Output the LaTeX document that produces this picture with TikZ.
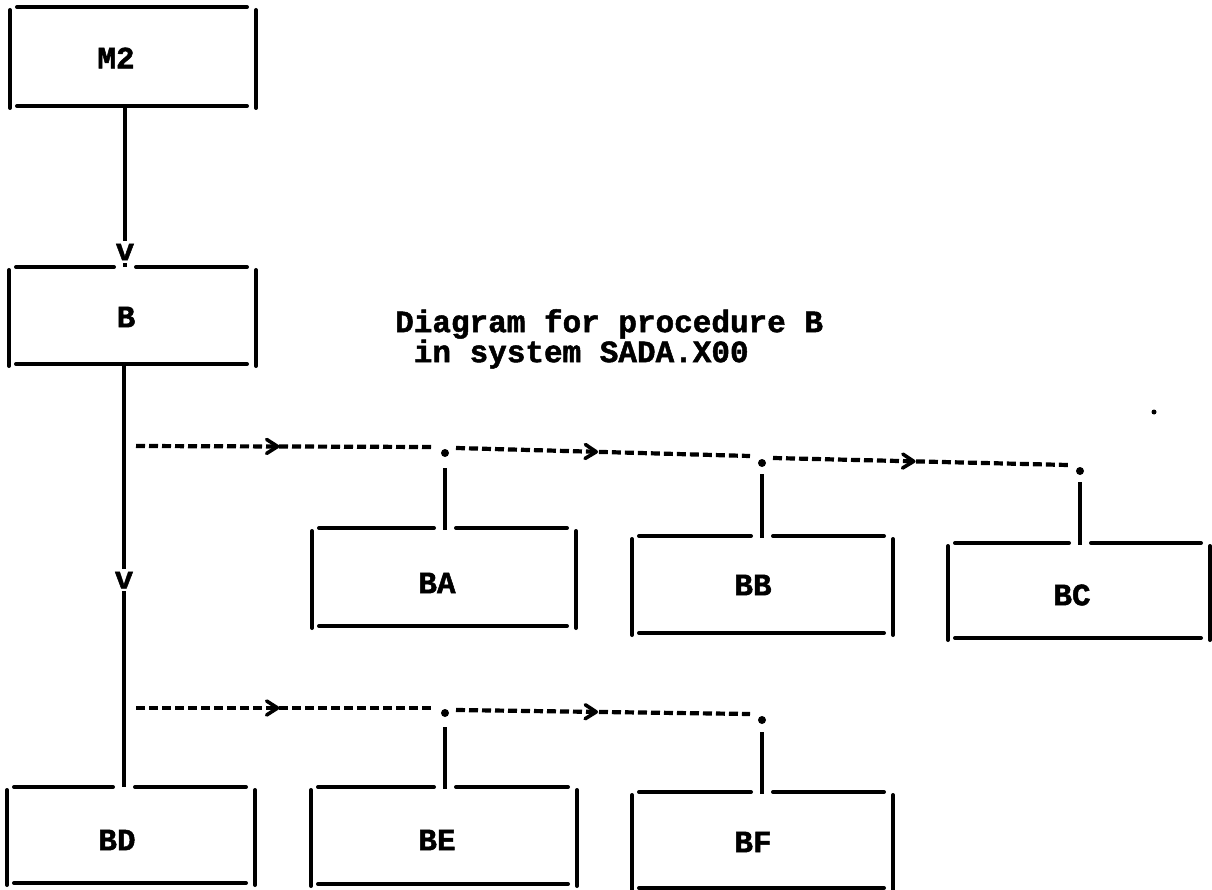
\documentclass[tikz,border=0pt]{standalone}
\usepackage{fontspec}
\setmonofont{Liberation Mono}[BoldFeatures={FakeBold=1.6}]
\usetikzlibrary{calc,decorations.markings}
\newcommand\tfont{\ttfamily\bfseries\fontsize{31}{25}\selectfont}
\newcommand\boxsides[1]{%
  \draw[frame] ($(#1.south west)+(7,0)$) -- ($(#1.south east)+(-9,0)$);
  \draw[frame] ($(#1.north west)+(0,3)$) -- ($(#1.south west)+(0,2)$);
  \draw[frame] ($(#1.north east)+(0,3)$) -- ($(#1.south east)+(0,2)$);}
\newcommand\boxtopgap[2]{%
  \draw[frame] ($(#1.north west)+(7,0)$) -- ($(#1.north -| #2)+(-11,0)$);
  \draw[frame] ($(#1.north -| #2)+(11,0)$) -- ($(#1.north east)+(-9,0)$);
  \boxsides{#1}}
\newcommand\boxtopfull[1]{%
  \draw[frame] ($(#1.north west)+(7,0)$) -- ($(#1.north east)+(-9,0)$);
  \boxsides{#1}}
\begin{document}
\begin{tikzpicture}[x=1pt,y=-1pt,
  frame/.style={line width=4pt, line cap=round},
  conn/.style={line width=4pt},
  dashline/.style={line width=4.2pt, dash pattern=on 9pt off 4pt,
    postaction={decorate}, decoration={markings,
      mark=at position 0.46 with {\draw[chev] (-6pt,-7pt) -- (5pt,0pt) -- (-6pt,7pt);}}},
  chev/.style={solid, line width=3.6pt, line cap=round, line join=round},
  boxnode/.style={draw=none, inner sep=0pt, outer sep=0pt},
  lbl/.style={font=\tfont, inner sep=0pt},
  vmark/.style={font=\tfont, fill=white, inner sep=3pt},
  jdot/.style={circle, fill=black, inner sep=0pt, minimum size=8pt},
  captext/.style={font=\tfont, align=left, inner sep=0pt}]
\useasboundingbox (0,0) rectangle (1212,890);
\fill[white] (0,0) rectangle (1212,890);

% boxes
\node[boxnode, minimum width=246pt, minimum height=99pt, label={[lbl,xshift=-17pt,yshift=-1.5pt]center:M2}] (M2) at (133,56.5) {};
\node[boxnode, minimum width=247pt, minimum height=97pt, label={[lbl,xshift=-6.5pt,yshift=-1.5pt]center:B}] (B) at (132.5,315.5) {};
\node[boxnode, minimum width=248pt, minimum height=96pt, label={[lbl,xshift=-14pt,yshift=-5pt]center:BD}] (BD) at (131,835) {};
\node[boxnode, minimum width=264pt, minimum height=98pt, label={[lbl,xshift=-7pt,yshift=-6pt]center:BA}] (BA) at (444,577) {};
\node[boxnode, minimum width=261pt, minimum height=97pt, label={[lbl,xshift=-9.5pt,yshift=-0.5pt]center:BB}] (BB) at (762.5,584.5) {};
\node[boxnode, minimum width=262pt, minimum height=95pt, label={[lbl,xshift=-7pt,yshift=-4.5pt]center:BC}] (BC) at (1079,590.5) {};
\node[boxnode, minimum width=266pt, minimum height=97pt, label={[lbl,xshift=-7pt,yshift=-4.5pt]center:BE}] (BE) at (444,835.5) {};
\node[boxnode, minimum width=261pt, minimum height=96pt, label={[lbl,xshift=-9.5pt,yshift=-2pt]center:BF}] (BF) at (762.5,840) {};

% caption
\node[captext, anchor=north west] (cap) at (395,309) {Diagram for procedure B\\\hspace*{0.6em}in system SADA.X00};

% spine
\coordinate (s1) at (125,0);
\coordinate (s2) at (124,0);
\draw[conn] (M2.south -| s1) -- node[vmark, pos=0.907] {v} (B.north -| s1);
\draw[conn] (B.south -| s2) -- node[vmark, pos=0.511] {v} (BD.north -| s2);

% row 1
\node[jdot] (j1) at (445,453) {};
\node[jdot] (j2) at (762,463) {};
\node[jdot] (j3) at (1080,471) {};
\coordinate (r1) at (136,446);
\draw[dashline] (r1) -- ($(j1)+(-12,-6)$);
\draw[dashline] ($(j1)+(11,-5)$) -- ($(j2)+(-12,-7)$);
\draw[dashline] ($(j2)+(11,-5)$) -- ($(j3)+(-12,-6)$);
\draw[conn] ($(j1)+(0,15)$) -- ($(BA.north -| j1)+(0,2)$);
\draw[conn] ($(j2)+(0,11)$) -- ($(BB.north -| j2)+(0,2)$);
\draw[conn] ($(j3)+(0,11)$) -- ($(BC.north -| j3)+(0,2)$);

% row 2
\node[jdot] (j4) at (445,713) {};
\node[jdot] (j5) at (762,720) {};
\coordinate (r2) at (136,708);
\draw[dashline] (r2) -- ($(j4)+(-12,-5)$);
\draw[dashline] ($(j4)+(11,-3)$) -- ($(j5)+(-12,-6)$);
\draw[conn] ($(j4)+(0,14)$) -- ($(BE.north -| j4)+(0,2)$);
\draw[conn] ($(j5)+(0,12)$) -- ($(BF.north -| j5)+(0,2)$);

% frames
\boxtopfull{M2}
\boxtopgap{B}{s1}
\boxtopgap{BD}{s2}
\boxtopgap{BA}{j1}
\boxtopgap{BB}{j2}
\boxtopgap{BC}{j3}
\boxtopgap{BE}{j4}
\boxtopgap{BF}{j5}

% stray speck
\fill (1154,412) circle[radius=2.5pt];
\end{tikzpicture}
\end{document}
